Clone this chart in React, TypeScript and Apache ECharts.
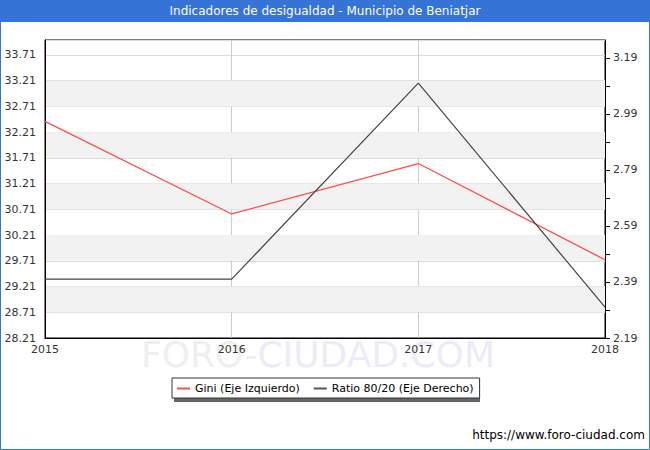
import React, { useEffect, useRef } from "react";
import * as echarts from "echarts";

const years = ["2015", "2016", "2017", "2018"];
const giniValues = [32.42, 30.62, 31.6, 29.73];
const ratioValues = [2.4, 2.4, 3.1, 2.3];
const giniName = "Gini (Eje Izquierdo)";
const ratioName = "Ratio 80/20 (Eje Derecho)";
const leftMin = 28.21;
const leftMax = 34.0;
const leftStep = 0.5;
const rightMin = 2.19;
const rightMax = 3.254;
const rightStep = 0.1;
const greyBands = [
  [28.71, 29.21],
  [29.71, 30.21],
  [30.71, 31.21],
  [31.71, 32.21],
  [32.71, 33.21],
];

const FONT = "DejaVu Sans";

export default function App() {
  const ref = useRef<HTMLDivElement>(null);
  useEffect(() => {
    if (!ref.current) return;
    const chart = echarts.init(ref.current, null, { renderer: "svg" });
    chart.setOption({
      animation: false,
      backgroundColor: "#fff",
      textStyle: { fontFamily: FONT },
      graphic: [
        {
          type: "rect",
          shape: { x: 0.5, y: 0.5, width: 649, height: 449 },
          style: { fill: "none", stroke: "#3673d6", lineWidth: 1 },
          z: 0,
        },
        {
          type: "rect",
          shape: { x: 0, y: 0, width: 650, height: 22 },
          style: { fill: "#3673d6" },
          z: 1,
        },
        {
          type: "text",
          x: 325,
          y: 11,
          style: {
            text: "Indicadores de desigualdad - Municipio de Beniatjar",
            fill: "#fff",
            font: `12px '${FONT}'`,
            textAlign: "center",
            textVerticalAlign: "middle",
          },
          z: 2,
        },
        {
          type: "text",
          x: 318,
          y: 354,
          silent: true,
          style: {
            text: "{a|FORO-}{b|CIUDAD.COM}",
            rich: {
              a: { fill: "#efefef", font: `36px '${FONT}'` },
              b: { fill: "#ececf8", font: `36px '${FONT}'` },
            },
            textAlign: "center",
            textVerticalAlign: "middle",
          },
          z: 0,
        },
        {
          type: "rect",
          shape: { x: 174, y: 380, width: 306, height: 22 },
          style: { fill: "#666" },
          z: 1,
        },
        {
          type: "text",
          x: 645,
          y: 435,
          style: {
            text: "https://www.foro-ciudad.com",
            fill: "#000",
            font: `12px '${FONT}'`,
            textAlign: "right",
            textVerticalAlign: "middle",
          },
          z: 2,
        },
      ],
      legend: {
        left: 172,
        top: 378,
        data: [giniName, ratioName],
        backgroundColor: "#fff",
        borderColor: "#333",
        borderWidth: 1,
        padding: [5, 6, 4, 5],
        itemGap: 14,
        itemWidth: 13,
        itemHeight: 2,
        icon: "rect",
        textStyle: { fontSize: 11, color: "#000", fontFamily: FONT },
        z: 5,
      },
      grid: {
        left: 45,
        right: 45,
        top: 40,
        bottom: 112,
        show: true,
        borderColor: "#000",
        borderWidth: 1,
        backgroundColor: "transparent",
      },
      xAxis: {
        type: "category",
        data: years,
        boundaryGap: false,
        axisLine: { lineStyle: { color: "#000" } },
        axisTick: { show: false },
        axisLabel: { color: "#333", fontSize: 11, margin: 6 },
        splitLine: { show: true, lineStyle: { color: "#ccc" } },
      },
      yAxis: [
        {
          type: "value",
          min: leftMin,
          max: leftMax,
          interval: leftStep,
          axisLine: { show: true, lineStyle: { color: "#000" } },
          axisTick: { show: false },
          axisLabel: {
            color: "#333",
            fontSize: 11,
            margin: 9,
            showMaxLabel: false,
            formatter: (v: number) => v.toFixed(2),
          },
          splitLine: { show: true, lineStyle: { color: "#ddd" } },
        },
        {
          type: "value",
          min: rightMin,
          max: rightMax,
          interval: rightStep,
          position: "right",
          axisLine: { show: true, lineStyle: { color: "#000" } },
          axisTick: { show: true, length: 5, lineStyle: { color: "#000" } },
          axisLabel: {
            color: "#333",
            fontSize: 11,
            margin: 8,
            showMaxLabel: false,
            formatter: (v: number) => {
              const k = Math.round((v - rightMin) / rightStep);
              return k % 2 === 0 ? v.toFixed(2) : "";
            },
          },
          splitLine: { show: false },
        },
      ],
      series: [
        {
          name: giniName,
          type: "line",
          yAxisIndex: 0,
          data: giniValues,
          symbol: "none",
          itemStyle: { color: "#ff4d4d" },
          lineStyle: { color: "#ff4d4d", width: 1.3 },
          z: 3,
          markArea: {
            silent: true,
            itemStyle: { color: "#f2f2f2" },
            data: greyBands.map((b) => [{ yAxis: b[0] }, { yAxis: b[1] }]),
            z: 0,
          },
        },
        {
          name: ratioName,
          type: "line",
          yAxisIndex: 1,
          data: ratioValues,
          symbol: "none",
          itemStyle: { color: "#555" },
          lineStyle: { color: "#444", width: 1.2 },
          z: 3,
        },
      ],
    });
    return () => chart.dispose();
  }, []);
  return (
    <div
      ref={ref}
      style={{ position: "absolute", left: 0, top: 0, width: 650, height: 450 }}
    />
  );
}
